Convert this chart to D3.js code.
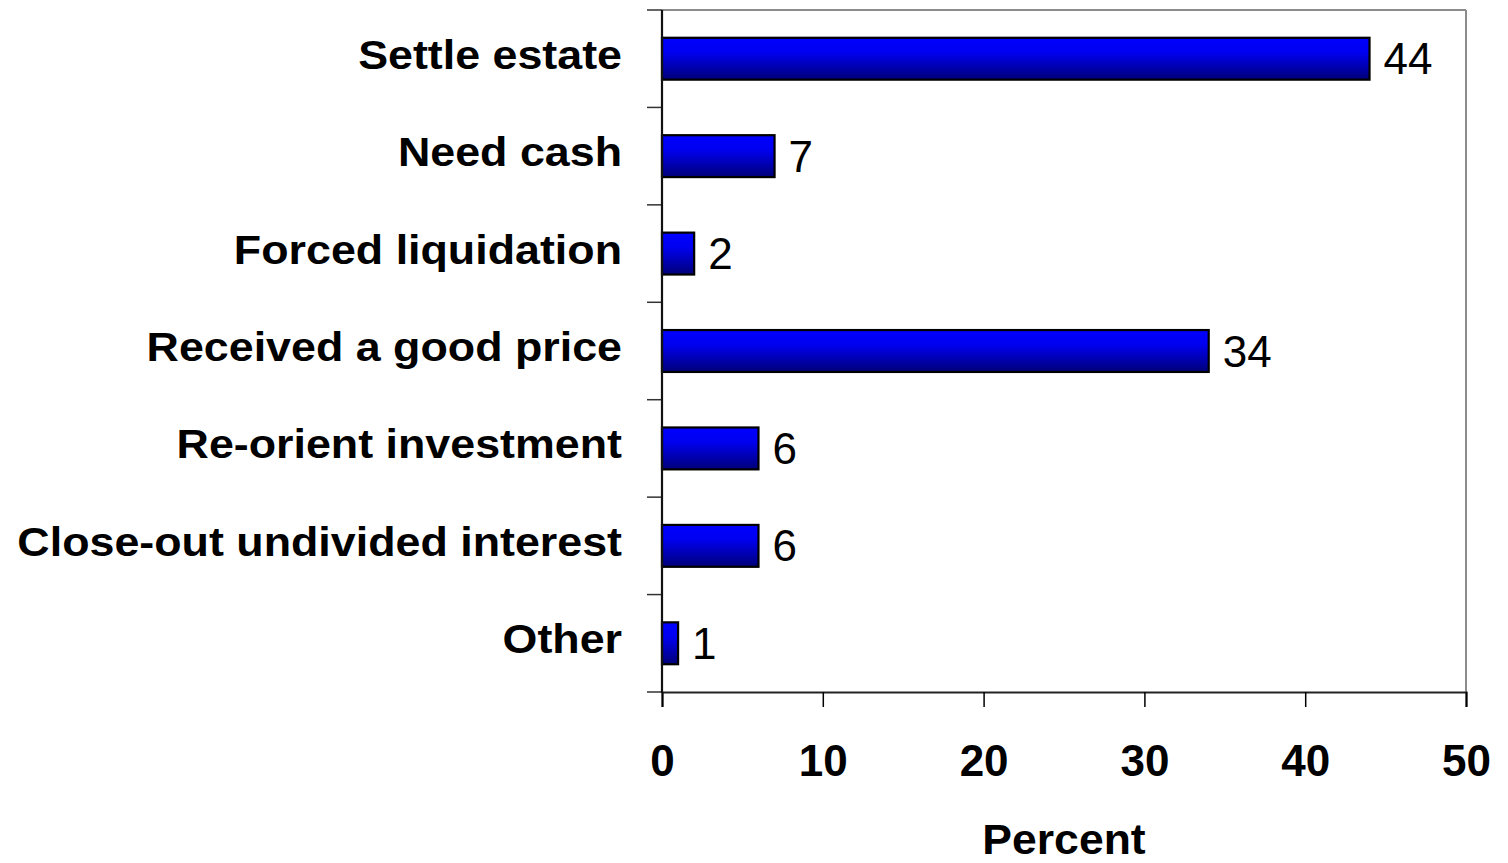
<!DOCTYPE html>
<html>
<head>
<meta charset="utf-8">
<script src="https://cdn.jsdelivr.net/npm/d3@7"></script>
<style>
  html, body { margin: 0; padding: 0; background: #fff; }
  svg { display: block; }
</style>
</head>
<body>
<svg id="chart" width="1508" height="863"></svg>
<script>
// Reasons for selling, percent of respondents
const categories = [
  "Settle estate",
  "Need cash",
  "Forced liquidation",
  "Received a good price",
  "Re-orient investment",
  "Close-out undivided interest",
  "Other"
];
const values = [44, 7, 2, 34, 6, 6, 1];
const xTicks = [0, 10, 20, 30, 40, 50];
const xTitle = "Percent";

const svg = d3.select("#chart");
const margin = { left: 662, right: 42, top: 10, bottom: 171 };
const W = 1508, H = 863;
const plotW = W - margin.left - margin.right;
const plotH = H - margin.top - margin.bottom;

const defs = svg.append("defs");
const grad = defs.append("linearGradient")
  .attr("id", "barFill").attr("x1", 0).attr("y1", 0).attr("x2", 0).attr("y2", 1);
grad.append("stop").attr("offset", "0%").attr("stop-color", "#0000ff");
grad.append("stop").attr("offset", "35%").attr("stop-color", "#0000f0");
grad.append("stop").attr("offset", "100%").attr("stop-color", "#000078");

const x = d3.scaleLinear().domain([0, 50]).range([0, plotW]);
const y = d3.scaleBand().domain(categories).range([0, plotH])
  .paddingInner(0.57).paddingOuter(0.285);
const yEdges = d3.scaleBand().domain(categories).range([0, plotH]);

const g = svg.append("g").attr("transform", `translate(${margin.left},${margin.top})`);

// plot frame: grey top and right edges
g.append("line").attr("x1", 0).attr("x2", plotW).attr("y1", 0).attr("y2", 0)
  .attr("stroke", "#8c8c8c").attr("stroke-width", 2);
g.append("line").attr("x1", plotW).attr("x2", plotW).attr("y1", 0).attr("y2", plotH)
  .attr("stroke", "#8c8c8c").attr("stroke-width", 2);

// category separators as ticks on the left axis
const yTickPos = categories.map(c => yEdges(c)).concat([plotH]);
g.selectAll(".ytick").data(yTickPos).join("line")
  .attr("x1", -15).attr("x2", 0)
  .attr("y1", d => d).attr("y2", d => d)
  .attr("stroke", "#333").attr("stroke-width", 1.5);

// bars
g.selectAll(".bar").data(values).join("rect")
  .attr("x", x(0))
  .attr("y", (d, i) => y(categories[i]))
  .attr("width", d => x(d) - x(0))
  .attr("height", y.bandwidth())
  .attr("fill", "url(#barFill)")
  .attr("stroke", "#000").attr("stroke-width", 2.2);

// value labels
g.selectAll(".val").data(values).join("text")
  .attr("x", d => x(d) + 14)
  .attr("y", (d, i) => y(categories[i]) + y.bandwidth() / 2 + 15.5)
  .attr("font-family", "Liberation Sans, Arial, sans-serif")
  .attr("font-size", 44)
  .attr("fill", "#000")
  .text(d => d);

// category labels, bold, slightly widened
g.selectAll(".cat").data(categories).join("text")
  .attr("transform", c => `translate(-40,${y(c) + y.bandwidth() / 2 + 10}) scale(1.12,1)`)
  .attr("text-anchor", "end")
  .attr("font-family", "Liberation Sans, Arial, sans-serif")
  .attr("font-weight", "bold")
  .attr("font-size", 40)
  .attr("fill", "#000")
  .text(c => c);

// x axis
const xAxis = g.append("g").attr("transform", `translate(0,${plotH})`)
  .call(d3.axisBottom(x).tickValues(xTicks).tickSize(15).tickPadding(38).tickFormat(d3.format("d")));
xAxis.select(".domain").attr("stroke", "#222").attr("stroke-width", 2.2);
xAxis.selectAll(".tick line").attr("stroke", "#000").attr("stroke-width", 1.5);
xAxis.selectAll(".tick text")
  .attr("font-family", "Liberation Sans, Arial, sans-serif")
  .attr("font-weight", "bold")
  .attr("font-size", 44)
  .attr("fill", "#000");

// left axis line
g.append("line").attr("x1", 0).attr("x2", 0).attr("y1", 0).attr("y2", plotH + 1)
  .attr("stroke", "#111").attr("stroke-width", 2.2);

// x axis title
svg.append("text")
  .attr("transform", `translate(${margin.left + plotW / 2},854) scale(1.06,1)`)
  .attr("text-anchor", "middle")
  .attr("font-family", "Liberation Sans, Arial, sans-serif")
  .attr("font-weight", "bold")
  .attr("font-size", 42)
  .attr("fill", "#000")
  .text(xTitle);
</script>
</body>
</html>
